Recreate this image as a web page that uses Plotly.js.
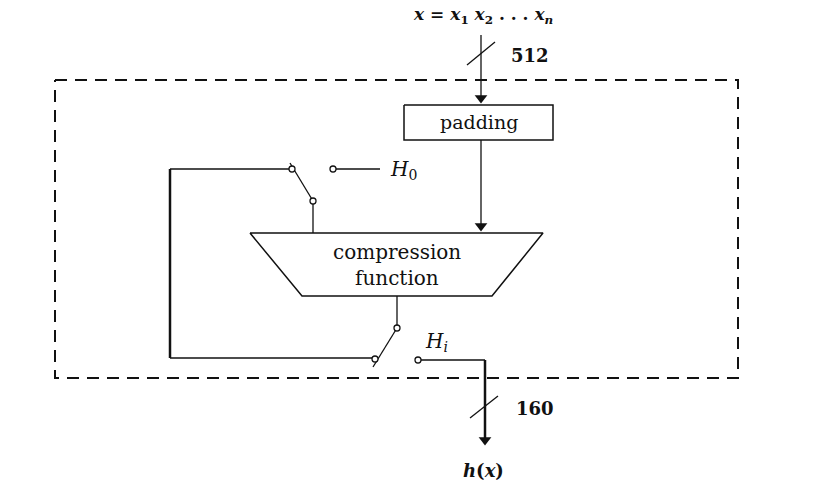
<!DOCTYPE html>
<html><head><script src="https://cdn.plot.ly/plotly-3.0.1.min.js"></script>
<style>body{margin:0;background:#fff}</style></head><body>
<div id="g" style="width:828px;height:488px"></div>
<script>
// diagram geometry (pixel-like coordinates, y down)
const thinLines = [
  [[481,481],[35,100]],          // input to padding
  [[467,495],[65,42]],           // slash 512
  [[481,481],[140,228]],         // padding to compression
  [[313,313],[201,233]],         // compression top to switch
  [[313,290],[201,163]],         // top switch arm
  [[170,292],[169,169]],         // feedback to top switch
  [[333,380],[169,169]],         // H0 input
  [[397,397],[296,328]],         // compression bottom to lower switch
  [[397,373],[328,367]],         // lower switch arm
  [[170,375],[358,358]],         // bottom feedback
  [[418,485],[360,360]],         // Hi output
  [[470,498],[418,396]]          // slash 160
];
const thickLines = [
  [[170,170],[169,358]],
  [[485,485],[360,440]]
];
const boxPadding = [[404,553,553,404,404],[105,105,140,140,105]];
const trapezoid = [[250,543,492,302,250],[233,233,296,296,233]];
const dashBox = [[55,738,738,55,55],[80,80,378,378,80]];
const switchCircles = [[292,313,333,397,375,418],[169,201,169,328,359,360]];
const arrowHeads = [[481,481,485],[98,226,440]];
const labels = [
  {t:"<b><i>x</i> = <i>x</i><sub>1</sub> <i>x</i><sub>2</sub> . . . <i>x<sub>n</sub></i></b>", x:483, y:15, s:17},
  {t:"<b>512</b>", x:530, y:55, s:18},
  {t:"padding", x:479, y:122, s:19},
  {t:"compression", x:397, y:252, s:20},
  {t:"function", x:397, y:278, s:20},
  {t:"<i>H</i><sub>0</sub>", x:403, y:170, s:20},
  {t:"<i>H<sub>i</sub></i>", x:436, y:342, s:20},
  {t:"<b>160</b>", x:535, y:408, s:18},
  {t:"<b><i>h</i>(<i>x</i>)</b>", x:483, y:470, s:18}
];
const traces = [];
const ln = (xy,w,dash)=>({x:xy[0],y:xy[1],mode:'lines',line:{color:'#111',width:w,dash:dash||'solid'},hoverinfo:'skip'});
thinLines.forEach(s=>traces.push(ln(s,1.3)));
thickLines.forEach(s=>traces.push(ln(s,2.5)));
traces.push(ln(boxPadding,1.5));
traces.push(ln(trapezoid,1.5));
traces.push(ln(dashBox,2,'12px,8px'));
traces.push({x:arrowHeads[0],y:arrowHeads[1],mode:'markers',marker:{symbol:'triangle-down',size:11,color:'#111'},hoverinfo:'skip'});
traces.push({x:switchCircles[0],y:switchCircles[1],mode:'markers',marker:{symbol:'circle',size:6,color:'#fff',line:{color:'#111',width:1.3}},hoverinfo:'skip'});
const annotations = labels.map(l=>({text:l.t,x:l.x,y:l.y,xref:'x',yref:'y',showarrow:false,font:{family:'DejaVu Serif',size:l.s,color:'#111'}}));
Plotly.newPlot('g',traces,{
  width:828,height:488,margin:{l:0,r:0,t:0,b:0},showlegend:false,
  paper_bgcolor:'#fff',plot_bgcolor:'#fff',
  xaxis:{range:[0,828],visible:false,fixedrange:true},
  yaxis:{range:[488,0],visible:false,fixedrange:true},
  annotations
},{staticPlot:true});
</script></body></html>
